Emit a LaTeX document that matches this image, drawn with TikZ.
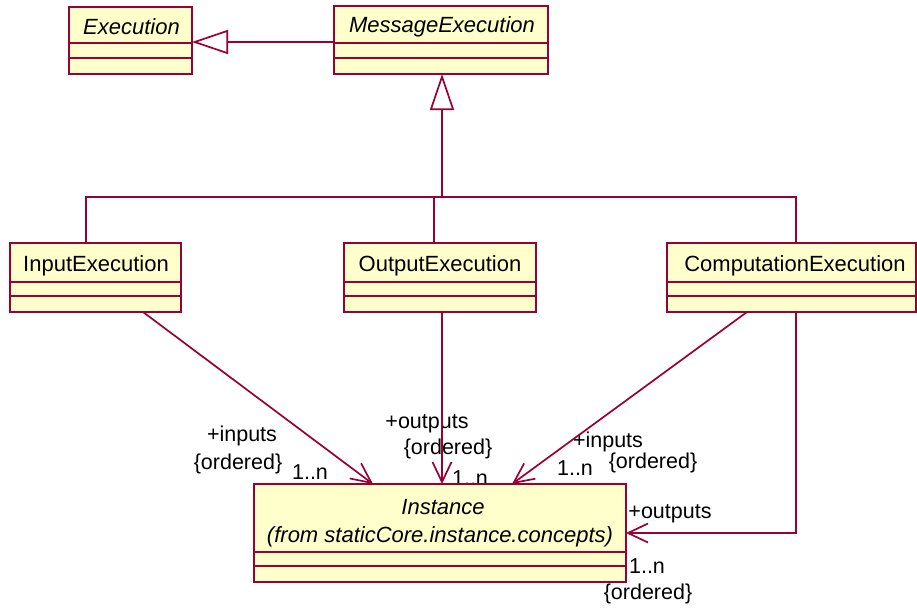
\documentclass[tikz,border=0pt]{standalone}
\usepackage{fontspec}
\setmainfont{Liberation Sans}
\usetikzlibrary{arrows.meta}
\definecolor{umlline}{HTML}{990033}
\definecolor{umlfill}{HTML}{FFFFCC}

\begin{document}
\begin{tikzpicture}[x=1pt,y=-1pt,
  classbox/.style={draw=umlline, fill=umlfill, line width=2pt, inner sep=0pt, outer sep=0pt},
  divider/.style={draw=umlline, line width=2pt},
  classname/.style={font=\fontsize{22}{26}\selectfont, inner sep=0pt},
  abstractname/.style={font=\fontsize{22}{26}\selectfont\itshape, inner sep=0pt},
  lbl/.style={font=\fontsize{21.5}{25}\selectfont, inner sep=0pt},
  link/.style={draw=umlline, line width=1.7pt},
  gen/.style={link, -{Triangle[length=36pt,width=24pt,fill=white,line width=1.7pt]}},
  assoc/.style={link, -{Straight Barb[length=20pt,width=19pt,line width=1.7pt]}}
]
\useasboundingbox (0,0) rectangle (917,611);

% --- class boxes -------------------------------------------------------
\node[classbox, minimum width=123pt, minimum height=67pt] (exec) at (130.5,40.5) {};
\node[classbox, minimum width=214pt, minimum height=68pt] (msg)  at (441,40) {};
\node[classbox, minimum width=171pt, minimum height=69pt] (in)   at (95.5,277.5) {};
\node[classbox, minimum width=192pt, minimum height=69pt] (out)  at (440,277.5) {};
\node[classbox, minimum width=249pt, minimum height=69pt] (comp) at (791.5,277.5) {};

\foreach \c in {exec,msg}{
  \draw[divider] (\c.west |- 0,43) -- (\c.east |- 0,43);
  \draw[divider] (\c.west |- 0,58) -- (\c.east |- 0,58);
}
\foreach \c in {in,out,comp}{
  \draw[divider] (\c.west |- 0,282) -- (\c.east |- 0,282);
  \draw[divider] (\c.west |- 0,296) -- (\c.east |- 0,296);
}

\node[abstractname] (execname) at (131.5,27) {Execution};
\node[abstractname] (msgname)  at (442,27)   {MessageExecution};
\node[classname]    (inname)   at (96,266)   {InputExecution};
\node[classname]    (outname)  at (440,266)  {OutputExecution};
\node[classname]    (compname) at (795,266)  {ComputationExecution};

% --- generalizations -----------------------------------------------------
\draw[gen] (msg.west |- 0,42) -- (exec.east |- 0,42);
\coordinate (bus)  at (442,197);
\coordinate (busL) at (86,197);
\coordinate (busR) at (796,197);
\draw[gen] (bus) -- (bus |- msg.south);
\draw[link] (in.north -| busL) -- (busL) -- (busR) -- (comp.north -| busR);
\draw[link] (out.north -| 434,0) -- (434,197);

% --- role labels ---------------------------------------------------------
\node[lbl] (l1)  at (242,436) {+inputs};
\node[lbl] (l2)  at (238,464) {\{ordered\}};
\node[lbl] (l3)  at (310,472) {1..n};
\node[lbl] (l4)  at (427,424) {+outputs};
\node[lbl] (l5)  at (448,449) {\{ordered\}};
\node[lbl] (l6)  at (470,478) {1..n};
\node[lbl] (l7)  at (608,442) {+inputs};
\node[lbl] (l8)  at (575,468) {1..n};
\node[lbl] (l9)  at (653,463) {\{ordered\}};
\node[lbl] (l10) at (670,514) {+outputs};
\node[lbl] (l11) at (647,566) {1..n};
\node[lbl] (l12) at (648,594) {\{ordered\}};

% --- Instance ------------------------------------------------------------
\node[classbox, minimum width=372pt, minimum height=98pt] (inst) at (440,533) {};
\draw[divider] (inst.west |- 0,552) -- (inst.east |- 0,552);
\draw[divider] (inst.west |- 0,566) -- (inst.east |- 0,566);
\node[abstractname] (instname) at (443,507) {Instance};
\node[abstractname] (instpkg)  at (440,537) {(from staticCore.instance.concepts)};

% --- associations --------------------------------------------------------
\draw[assoc] (in.south -| 143,0)   -- (inst.north -| 373,0);
\draw[assoc] (out.south -| 442,0)  -- (inst.north -| 442,0);
\draw[assoc] (comp.south -| 747,0) -- (inst.north -| 512,0);
\draw[assoc] (comp.south -| busR) |- (inst.east);
\end{tikzpicture}
\end{document}
